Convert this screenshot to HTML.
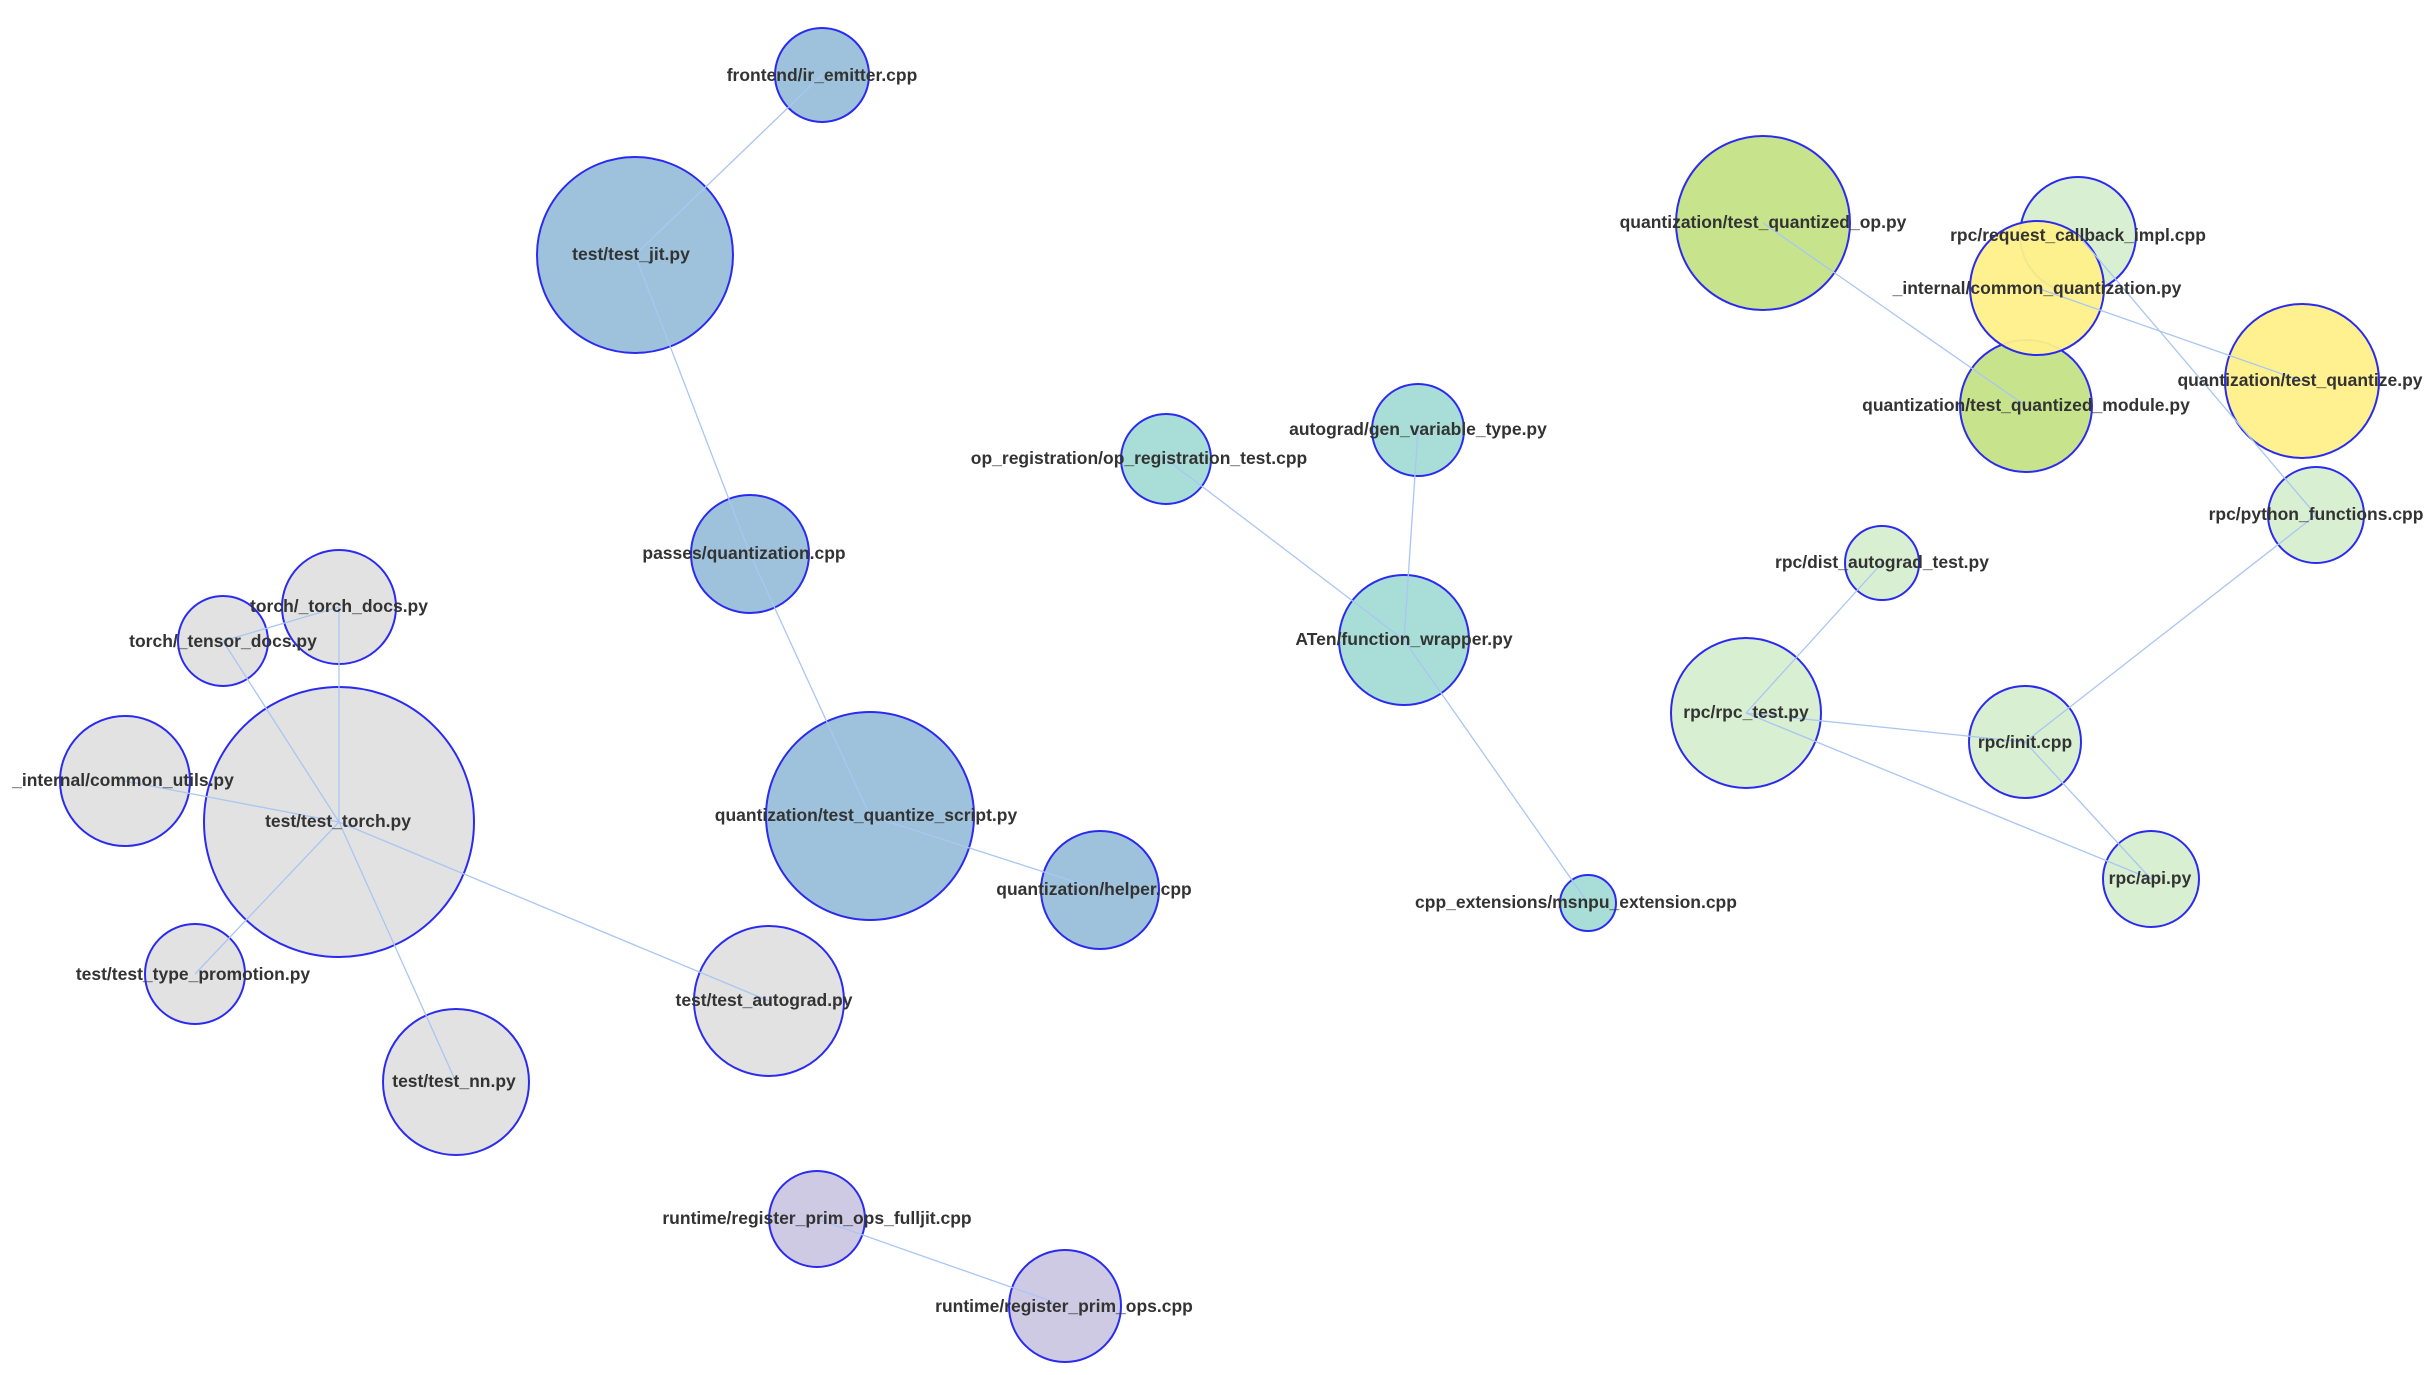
<!DOCTYPE html>
<html><head><meta charset="utf-8"><style>
html,body{margin:0;padding:0;background:#fff;}
svg{display:block;}
text{font-family:"Liberation Sans",Arial,sans-serif;font-weight:bold;font-size:17.5px;fill:#333;text-anchor:middle;dominant-baseline:central;}
circle{stroke:#2b2bf0;stroke-width:2;fill-opacity:0.95;}
line{stroke:#aac6f2;stroke-width:1.3;}
</style></head><body>
<svg width="2425" height="1375" viewBox="0 0 2425 1375" xmlns="http://www.w3.org/2000/svg">
<g>
<circle cx="822" cy="75" r="47" fill="#99bfda"/>
<circle cx="635" cy="255" r="98" fill="#99bfda"/>
<circle cx="750" cy="554" r="59" fill="#99bfda"/>
<circle cx="870" cy="816" r="104" fill="#99bfda"/>
<circle cx="1100" cy="890" r="59" fill="#99bfda"/>
<circle cx="339" cy="607" r="57" fill="#e0e0e0"/>
<circle cx="223" cy="641" r="45" fill="#e0e0e0"/>
<circle cx="125" cy="781" r="65" fill="#e0e0e0"/>
<circle cx="339" cy="822" r="135" fill="#e0e0e0"/>
<circle cx="195" cy="974" r="50" fill="#e0e0e0"/>
<circle cx="456" cy="1082" r="73" fill="#e0e0e0"/>
<circle cx="769" cy="1001" r="75" fill="#e0e0e0"/>
<circle cx="817" cy="1219" r="48" fill="#cbc7e3"/>
<circle cx="1065" cy="1306" r="56" fill="#cbc7e3"/>
<circle cx="1166" cy="459" r="45" fill="#a3dcd5"/>
<circle cx="1418" cy="430" r="46" fill="#a3dcd5"/>
<circle cx="1404" cy="640" r="65" fill="#a3dcd5"/>
<circle cx="1588" cy="903" r="28" fill="#a3dcd5"/>
<circle cx="1763" cy="223" r="87" fill="#c4e387"/>
<circle cx="2078" cy="235" r="58" fill="#d6eed0"/>
<circle cx="2026" cy="406" r="66" fill="#c4e387"/>
<circle cx="2037" cy="288" r="67" fill="#fff08a"/>
<circle cx="2302" cy="381" r="77" fill="#fff08a"/>
<circle cx="2316" cy="515" r="48" fill="#d6eed0"/>
<circle cx="1882" cy="563" r="37" fill="#d6eed0"/>
<circle cx="1746" cy="713" r="75" fill="#d6eed0"/>
<circle cx="2025" cy="742" r="56" fill="#d6eed0"/>
<circle cx="2151" cy="879" r="48" fill="#d6eed0"/>
</g>
<g>
<line x1="822" y1="75" x2="635" y2="255"/>
<line x1="635" y1="255" x2="750" y2="554"/>
<line x1="750" y1="554" x2="870" y2="816"/>
<line x1="870" y1="816" x2="1100" y2="890"/>
<line x1="339" y1="607" x2="223" y2="641"/>
<line x1="223" y1="641" x2="339" y2="822"/>
<line x1="339" y1="607" x2="339" y2="822"/>
<line x1="125" y1="781" x2="339" y2="822"/>
<line x1="195" y1="974" x2="339" y2="822"/>
<line x1="456" y1="1082" x2="339" y2="822"/>
<line x1="769" y1="1001" x2="339" y2="822"/>
<line x1="817" y1="1219" x2="1065" y2="1306"/>
<line x1="1166" y1="459" x2="1404" y2="640"/>
<line x1="1418" y1="430" x2="1404" y2="640"/>
<line x1="1404" y1="640" x2="1588" y2="903"/>
<line x1="1763" y1="223" x2="2026" y2="406"/>
<line x1="2037" y1="288" x2="2302" y2="381"/>
<line x1="2078" y1="235" x2="2316" y2="515"/>
<line x1="2316" y1="515" x2="2025" y2="742"/>
<line x1="1882" y1="563" x2="1746" y2="713"/>
<line x1="1746" y1="713" x2="2025" y2="742"/>
<line x1="1746" y1="713" x2="2151" y2="879"/>
<line x1="2025" y1="742" x2="2151" y2="879"/>
</g>
<g>
<text x="822" y="75">frontend/ir_emitter.cpp</text>
<text x="631" y="254">test/test_jit.py</text>
<text x="744" y="553">passes/quantization.cpp</text>
<text x="866" y="815">quantization/test_quantize_script.py</text>
<text x="1094" y="889">quantization/helper.cpp</text>
<text x="339" y="606">torch/_torch_docs.py</text>
<text x="223" y="641">torch/_tensor_docs.py</text>
<text x="123" y="780">_internal/common_utils.py</text>
<text x="338" y="821">test/test_torch.py</text>
<text x="193" y="974">test/test_type_promotion.py</text>
<text x="454" y="1081">test/test_nn.py</text>
<text x="764" y="1000">test/test_autograd.py</text>
<text x="817" y="1218">runtime/register_prim_ops_fulljit.cpp</text>
<text x="1064" y="1306">runtime/register_prim_ops.cpp</text>
<text x="1139" y="458">op_registration/op_registration_test.cpp</text>
<text x="1418" y="429">autograd/gen_variable_type.py</text>
<text x="1404" y="639">ATen/function_wrapper.py</text>
<text x="1576" y="902">cpp_extensions/msnpu_extension.cpp</text>
<text x="1763" y="222">quantization/test_quantized_op.py</text>
<text x="2078" y="235">rpc/request_callback_impl.cpp</text>
<text x="2037" y="288">_internal/common_quantization.py</text>
<text x="2026" y="405">quantization/test_quantized_module.py</text>
<text x="2300" y="380">quantization/test_quantize.py</text>
<text x="2316" y="514">rpc/python_functions.cpp</text>
<text x="1882" y="562">rpc/dist_autograd_test.py</text>
<text x="1746" y="712">rpc/rpc_test.py</text>
<text x="2025" y="742">rpc/init.cpp</text>
<text x="2150" y="878">rpc/api.py</text>
</g>
</svg>
</body></html>
